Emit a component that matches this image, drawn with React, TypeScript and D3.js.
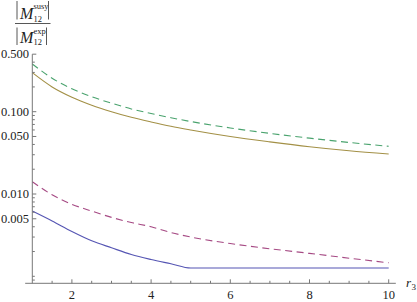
import React from "react";
import * as d3 from "d3";

const xs = [1, 1.5, 2, 2.5, 3, 3.5, 4, 4.5, 5, 6, 7, 8, 9, 10];
const greenDashed = [0.38, 0.255, 0.19, 0.152, 0.127, 0.108, 0.095, 0.0845, 0.076, 0.0635, 0.0545, 0.0477, 0.0423, 0.038];
const yellowSolid = [0.298, 0.2, 0.15, 0.12, 0.1, 0.0855, 0.075, 0.0665, 0.06, 0.05, 0.043, 0.0375, 0.0335, 0.0306];
const purpleDashed = [0.0141, 0.0098, 0.0075, 0.0062, 0.0052, 0.0045, 0.004, 0.0034, 0.003, 0.0025, 0.00216, 0.0019, 0.00166, 0.00146];
const blueSolid = [0.0062, 0.0047, 0.0035, 0.0027, 0.00222, 0.00184, 0.0016, 0.00142, 0.00126, 0.00126, 0.00126, 0.00126, 0.00126, 0.00126];

const yMajorTicks = [0.5, 0.1, 0.05, 0.01, 0.005];
const yMajorLabels = ["0.500", "0.100", "0.050", "0.010", "0.005"];
const xMajorTicks = [2, 4, 6, 8, 10];

const W = 417;
const H = 302;
const FONT = "'Liberation Serif', 'Times New Roman', serif";

export default function App() {
  const x = d3.scaleLinear().domain([1, 10]).range([32.3, 388.7]);
  const y = d3.scaleLog().domain([0.1, 0.01]).range([111.7, 194]);
  const yBottom = 283.3;
  const yTop = y(0.5);
  const xLeft = x(0.82);
  const xRight = x(10.18);

  const series = [
    { vals: blueSolid, color: "#5555B3", dash: null },
    { vals: purpleDashed, color: "#A64A84", dash: "7,4.5" },
    { vals: yellowSolid, color: "#A39046", dash: null },
    { vals: greenDashed, color: "#4AA36E", dash: "7,4.5" },
  ];

  const line = d3
    .line<[number, number]>()
    .x((d) => x(d[0]))
    .y((d) => y(d[1]))
    .curve(d3.curveMonotoneX);

  const yMinor: number[] = [];
  [0.0001, 0.001, 0.01, 0.1].forEach((dec) => {
    for (let k = 1; k <= 9; k++) {
      const v = +(dec * k).toPrecision(3);
      if (v >= 0.00082 && v <= 0.5 && !yMajorTicks.includes(v)) yMinor.push(v);
    }
  });
  const xMinor: number[] = d3.range(1.5, 10.01, 0.5).filter((v) => !xMajorTicks.includes(v));

  const axisColor = "#777";
  const ts = { fontFamily: FONT } as React.CSSProperties;

  return (
    <svg width={W} height={H} style={{ position: "absolute", left: 0, top: 0 }}>
      <rect width={W} height={H} fill="#fff" />
      {series.map((s, i) => (
        <path
          key={i}
          d={line(xs.map((xv, j) => [xv, s.vals[j]] as [number, number])) || ""}
          fill="none"
          stroke={s.color}
          strokeWidth={1.1}
          strokeDasharray={s.dash || undefined}
        />
      ))}
      <line x1={xLeft} x2={xRight} y1={yBottom} y2={yBottom} stroke={axisColor} strokeWidth={1} />
      <line x1={x(1)} x2={x(1)} y1={yBottom} y2={yTop} stroke={axisColor} strokeWidth={1} />
      {xMajorTicks.map((t) => (
        <g key={"xm" + t}>
          <line x1={x(t)} x2={x(t)} y1={yBottom} y2={yBottom - 4} stroke={axisColor} />
          <text x={x(t)} y={299} textAnchor="middle" fontSize={12.5} fill="#222" style={ts}>
            {t}
          </text>
        </g>
      ))}
      {xMinor.map((t) => (
        <line key={"xn" + t} x1={x(t)} x2={x(t)} y1={yBottom} y2={yBottom - 2.5} stroke={axisColor} />
      ))}
      {yMajorTicks.map((t, i) => (
        <g key={"ym" + t}>
          <line x1={x(1)} x2={x(1) + 4} y1={y(t)} y2={y(t)} stroke={axisColor} />
          <text x={29} y={y(t) + 4} textAnchor="end" fontSize={12.5} fill="#222" style={ts}>
            {yMajorLabels[i]}
          </text>
        </g>
      ))}
      {yMinor.map((t) => (
        <line key={"yn" + t} x1={x(1)} x2={x(1) + 2.5} y1={y(t)} y2={y(t)} stroke={axisColor} />
      ))}
      <text x={406} y={287} fontSize={13} fontStyle="italic" fill="#222" style={ts}>
        r
      </text>
      <text x={411.5} y={290} fontSize={9} fill="#222" style={ts}>
        3
      </text>
      <g fill="#222" stroke="none" style={ts}>
        <line x1={17} x2={17} y1={1} y2={19.5} stroke="#444" strokeWidth={0.9} />
        <text x={20} y={19} fontSize={16} fontStyle="italic">M</text>
        <text x={33.5} y={9} fontSize={8.5}>susy</text>
        <text x={33.5} y={21.5} fontSize={8.5}>12</text>
        <line x1={48.5} x2={48.5} y1={1} y2={19.5} stroke="#444" strokeWidth={0.9} />
        <line x1={15} x2={50.5} y1={23.5} y2={23.5} stroke="#444" strokeWidth={0.9} />
        <line x1={17} x2={17} y1={27.5} y2={45} stroke="#444" strokeWidth={0.9} />
        <text x={20} y={43} fontSize={16} fontStyle="italic">M</text>
        <text x={33.5} y={33.5} fontSize={8.5}>exp</text>
        <text x={33.5} y={45} fontSize={8.5}>12</text>
        <line x1={46.5} x2={46.5} y1={27.5} y2={45} stroke="#444" strokeWidth={0.9} />
      </g>
    </svg>
  );
}
